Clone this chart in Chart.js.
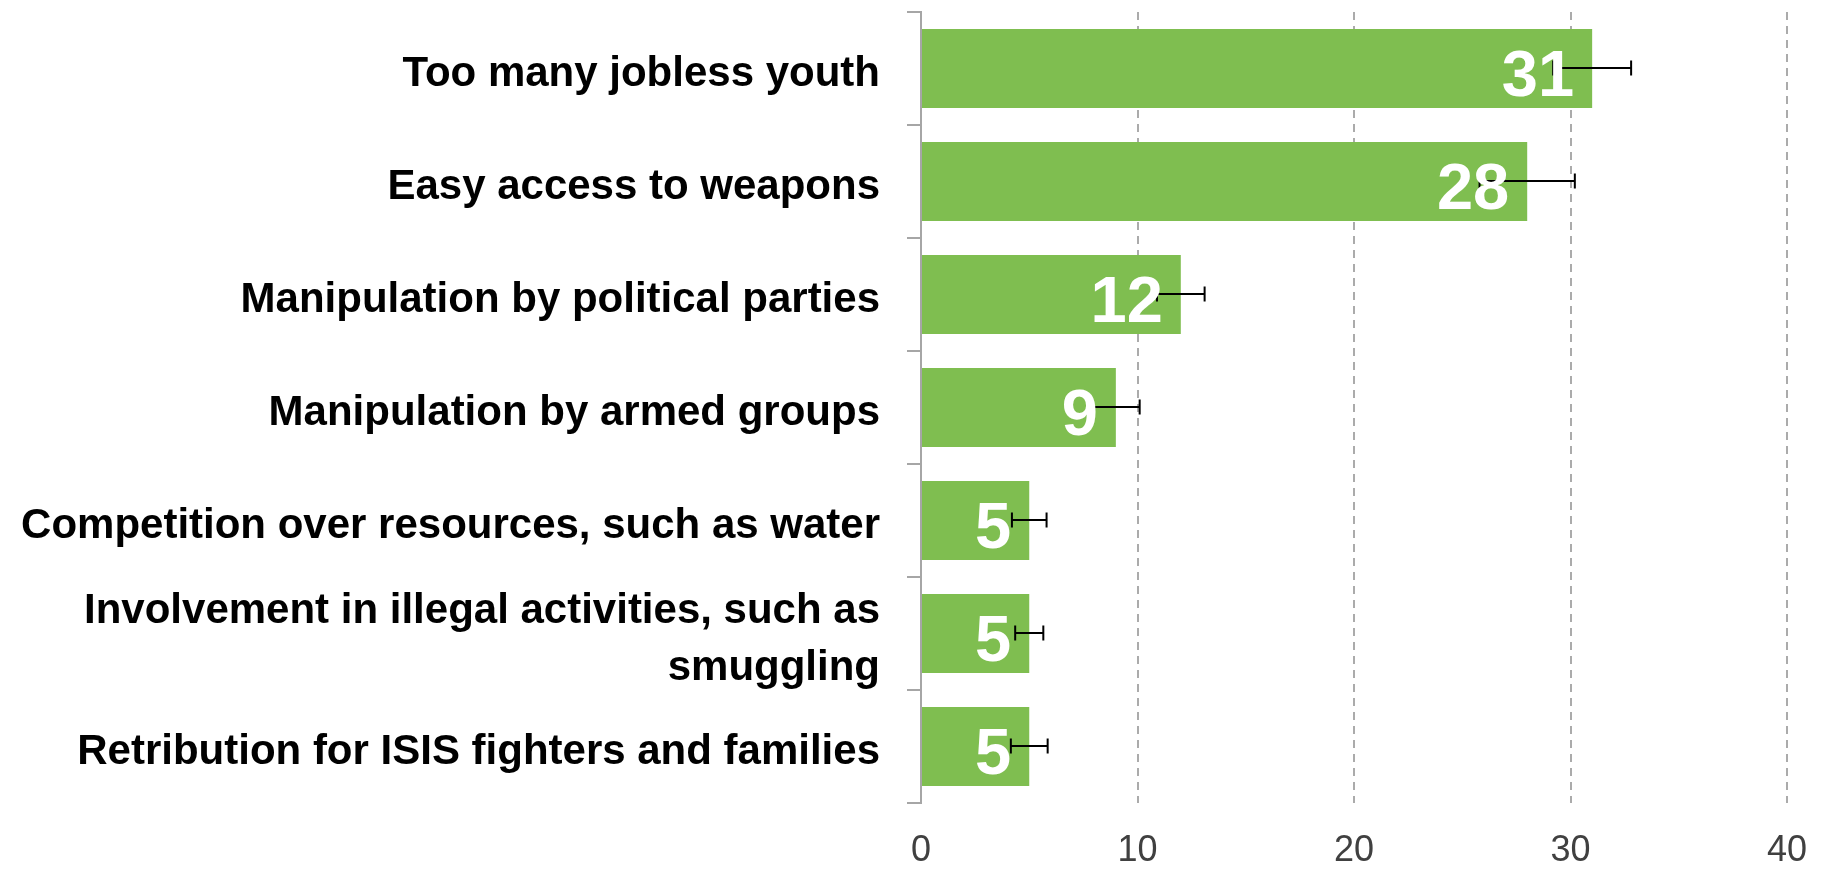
<!DOCTYPE html>
<html>
<head>
<meta charset="utf-8">
<script src="https://cdn.jsdelivr.net/npm/chart.js@4.4.1/dist/chart.umd.min.js"></script>
<style>
  html, body { margin: 0; padding: 0; background: #ffffff; }
  #wrap { width: 1821px; height: 869px; position: relative; }
</style>
</head>
<body>
<div id="wrap"><canvas id="c" width="1821" height="869"></canvas></div>
<script>
// ---- Data ----
const categories = [
  "Too many jobless youth",
  "Easy access to weapons",
  "Manipulation by political parties",
  "Manipulation by armed groups",
  "Competition over resources, such as water",
  ["Involvement in illegal activities, such as", "smuggling"],
  "Retribution for ISIS fighters and families"
];
const values = [31, 28, 12, 9, 5, 5, 5];
const errors = [1.8, 2.2, 1.1, 1.1, 0.8, 0.65, 0.85];
const xTicks = [0, 10, 20, 30, 40];

// ---- Styles ----
const BAR_COLOR = '#7FBE50';
const AXIS_GREY = '#A6A6A6';
const GRID_GREY = '#ABABAB';
const FONT = "'Liberation Sans', Arial, Helvetica, sans-serif";

const overlayPlugin = {
  id: 'overlay',
  afterDatasetsDraw(chart) {
    const ctx = chart.ctx;
    const xs = chart.scales.x;
    const meta = chart.getDatasetMeta(0);
    // error bars
    ctx.save();
    ctx.strokeStyle = '#000000';
    ctx.lineWidth = 2;
    meta.data.forEach((bar, i) => {
      const y = Math.round(bar.y) - 1;
      const x1 = xs.getPixelForValue(values[i] - errors[i]);
      const x2 = xs.getPixelForValue(values[i] + errors[i]);
      ctx.beginPath();
      ctx.moveTo(x1, y); ctx.lineTo(x2, y);
      ctx.moveTo(x1, y - 7.5); ctx.lineTo(x1, y + 7.5);
      ctx.moveTo(x2, y - 7.5); ctx.lineTo(x2, y + 7.5);
      ctx.stroke();
    });
    ctx.restore();
    // value labels
    ctx.save();
    ctx.fillStyle = '#FFFFFF';
    ctx.font = "bold 65px " + FONT;
    ctx.textAlign = 'right';
    ctx.textBaseline = 'alphabetic';
    meta.data.forEach((bar, i) => {
      const x = xs.getPixelForValue(values[i]) - 18;
      ctx.fillText(String(values[i]), x, bar.y + 27.5);
    });
    ctx.restore();
  }
};

new Chart(document.getElementById('c'), {
  type: 'bar',
  data: {
    labels: categories,
    datasets: [{
      data: values,
      backgroundColor: BAR_COLOR,
      borderWidth: 0,
      categoryPercentage: 1.0,
      barPercentage: 0.7
    }]
  },
  plugins: [overlayPlugin],
  options: {
    indexAxis: 'y',
    responsive: false,
    animation: false,
    devicePixelRatio: 1,
    layout: { padding: { top: 12, right: 34, left: 0, bottom: 0 } },
    plugins: { legend: { display: false }, tooltip: { enabled: false } },
    scales: {
      x: {
        min: 0, max: 40,
        afterBuildTicks(axis) { axis.ticks = xTicks.map(v => ({ value: v })); },
        afterFit(axis) { axis.height = 66; axis.paddingLeft = 0; axis.paddingRight = 0; },
        grid: {
          drawTicks: false,
          lineWidth: 2,
          color: (c) => (c.tick && c.tick.value === 0) ? 'rgba(0,0,0,0)' : GRID_GREY
        },
        border: { display: false, dash: [8, 6] },
        ticks: {
          padding: 26,
          color: '#404040',
          font: { family: FONT, size: 36 }
        }
      },
      y: {
        afterFit(axis) { axis.width = 921; axis.paddingTop = 0; axis.paddingBottom = 0; },
        border: { display: true, color: AXIS_GREY, width: 2 },
        grid: {
          drawOnChartArea: false,
          drawTicks: true,
          tickLength: 14,
          color: AXIS_GREY,
          lineWidth: 2,
          offset: true
        },
        ticks: {
          autoSkip: false,
          padding: 27,
          labelOffset: 6,
          color: '#000000',
          font: { family: FONT, size: 42, weight: 'bold', lineHeight: 1.36 }
        }
      }
    }
  }
});
</script>
</body>
</html>
